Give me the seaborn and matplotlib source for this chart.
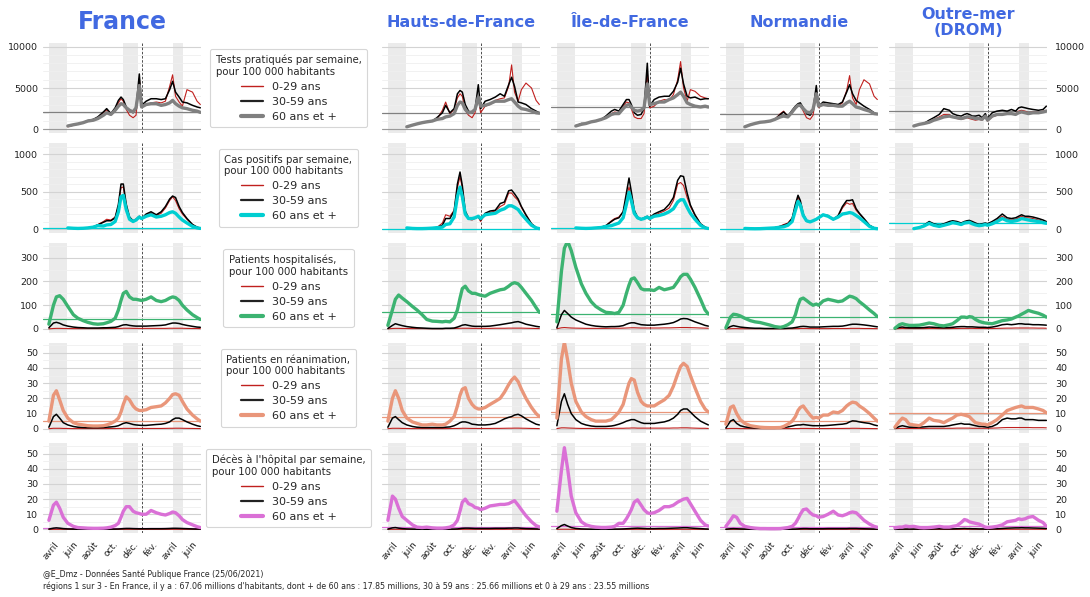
import numpy as np
import pandas as pd
import matplotlib
matplotlib.use("Agg")
import matplotlib.pyplot as plt
import matplotlib.dates as mdates
from matplotlib.lines import Line2D
from matplotlib.ticker import MultipleLocator, FixedLocator
import seaborn as sns

NA = np.nan

DATES = ["2020-03-18", "2020-04-01", "2020-04-10", "2020-04-20", "2020-05-01", "2020-05-15",
         "2020-06-01", "2020-06-15", "2020-07-01", "2020-07-15", "2020-08-01", "2020-08-15",
         "2020-09-01", "2020-09-11", "2020-09-24", "2020-10-07", "2020-10-17", "2020-10-25",
         "2020-11-01", "2020-11-10", "2020-11-20", "2020-12-01", "2020-12-10", "2020-12-20",
         "2020-12-27", "2021-01-10", "2021-01-25", "2021-02-10", "2021-02-25", "2021-03-10",
         "2021-03-23", "2021-04-01", "2021-04-10", "2021-04-21", "2021-05-01", "2021-05-15",
         "2021-06-01", "2021-06-15", "2021-06-25"]

# ---------------- Tests pratiqués / semaine / 100k ----------------
FR_TESTS_A = [NA, NA, NA, NA, NA, 300, 500, 650, 800, 950, 1100, 1450, 2000, 2350, 1750, 2400, 3200, 3700, 3400, 2400, 1700, 1400, 1700, 6200, 2800, 3000, 3200, 3300, 3200, 3400, 5200, 6600, 4000, 3300, 2800, 4800, 4500, 3400, 3000]
FR_TESTS_B = [NA, NA, NA, NA, NA, 400, 500, 650, 800, 1050, 1200, 1500, 2100, 2500, 1900, 2600, 3500, 3900, 3600, 2700, 2300, 2000, 2500, 6700, 2900, 3400, 3700, 3700, 3600, 3700, 4800, 5800, 4500, 3900, 3300, 3200, 2900, 2700, 2600]
FR_TESTS_C = [NA, NA, NA, NA, NA, 400, 550, 650, 800, 1000, 1100, 1300, 1700, 2000, 1800, 2300, 2800, 3100, 3000, 2600, 2300, 2100, 2600, 5300, 2700, 3000, 3100, 3100, 2900, 3000, 3200, 3500, 3100, 2800, 2600, 2500, 2300, 2200, 2050]
HDF_TESTS_A = [NA, NA, NA, NA, NA, 300, 500, 650, 800, 900, 1000, 1200, 2300, 3300, 1900, 2400, 3800, 4300, 4000, 2300, 1700, 1400, 2000, 4000, 2000, 2800, 3000, 3500, 3700, 3800, 5200, 7800, 4500, 3400, 4800, 5600, 5000, 3500, 3000]
HDF_TESTS_B = [NA, NA, NA, NA, NA, 300, 500, 650, 800, 900, 1000, 1400, 2000, 2900, 2000, 2500, 4300, 4700, 4500, 3000, 2200, 2000, 2400, 5400, 2500, 3400, 3600, 3900, 4300, 4000, 5400, 6300, 5200, 3300, 3200, 3000, 2500, 2200, 2000]
HDF_TESTS_C = [NA, NA, NA, NA, NA, 300, 500, 650, 800, 900, 1000, 1200, 1300, 1500, 1600, 1900, 2900, 3300, 3200, 2400, 2000, 2100, 2400, 3900, 2800, 2900, 3100, 3400, 3400, 3400, 3600, 3700, 3300, 2800, 2500, 2400, 2200, 2000, 1950]
IDF_TESTS_A = [NA, NA, NA, NA, NA, 400, 600, 700, 900, 1000, 1200, 1400, 1900, 2100, 2000, 2800, 3300, 3200, 2500, 1500, 1300, 1300, 1900, 7000, 2600, 2800, 3400, 3600, 3500, 4200, 6000, 8200, 5000, 3400, 4800, 4600, 4000, 3800, 3700]
IDF_TESTS_B = [NA, NA, NA, NA, NA, 400, 700, 700, 900, 1000, 1200, 1600, 2200, 2400, 2200, 3000, 3600, 3600, 3000, 2000, 1700, 1800, 2500, 8000, 2800, 3600, 3900, 4000, 4000, 4600, 5700, 7400, 5500, 4000, 3800, 3900, 3600, 3700, 3700]
IDF_TESTS_C = [NA, NA, NA, NA, NA, 400, 600, 700, 900, 1000, 1200, 1400, 1800, 1900, 1900, 2500, 2900, 3000, 2700, 2300, 2200, 2300, 2600, 5500, 3000, 3100, 3300, 3300, 3600, 3800, 4200, 4500, 4000, 3200, 3000, 2800, 2700, 2800, 2700]
NOR_TESTS_A = [NA, NA, NA, NA, NA, 300, 550, 700, 850, 900, 1000, 1200, 1900, 2200, 1500, 2000, 2600, 2900, 2900, 2200, 1400, 1200, 1700, 4500, 2600, 3100, 2900, 2900, 2800, 3200, 4700, 6500, 3800, 3000, 4800, 6000, 5500, 4000, 3600]
NOR_TESTS_B = [NA, NA, NA, NA, NA, 300, 550, 700, 850, 900, 1000, 1200, 1800, 2100, 1600, 2300, 2800, 3100, 3200, 2600, 1900, 1700, 2300, 5300, 2800, 3300, 3200, 3100, 3000, 3300, 4500, 5400, 4300, 3500, 3200, 2800, 2400, 2000, 1800]
NOR_TESTS_C = [NA, NA, NA, NA, NA, 300, 550, 700, 850, 900, 1000, 1200, 1500, 1600, 1500, 2100, 2600, 2900, 2900, 2500, 2100, 2000, 2400, 4300, 2800, 3000, 2900, 2900, 2800, 2800, 3200, 3400, 3100, 2700, 2600, 2400, 2200, 1900, 1850]
OM_TESTS_A = [NA, NA, NA, NA, NA, 400, 600, 700, 900, 1200, 1500, 1800, 1800, 1500, 1300, 1200, 1300, 1400, 1300, 1200, 1100, 1200, 1100, 1500, 1000, 1500, 1700, 1800, 1800, 1900, 1900, 2200, 2300, 2200, 2000, 2100, 2100, 2200, 2300]
OM_TESTS_B = [NA, NA, NA, NA, NA, 400, 600, 700, 1100, 1400, 1800, 2500, 2300, 1900, 1700, 1600, 1800, 1900, 1800, 1600, 1600, 1700, 1400, 1900, 1300, 2000, 2200, 2300, 2200, 2400, 2200, 2600, 2700, 2600, 2500, 2400, 2300, 2400, 2800]
OM_TESTS_C = [NA, NA, NA, NA, NA, 400, 600, 700, 850, 1100, 1300, 1500, 1600, 1500, 1400, 1300, 1400, 1500, 1500, 1400, 1300, 1300, 1200, 1600, 1100, 1600, 1800, 1800, 1900, 1900, 1800, 2000, 2100, 2000, 1900, 2000, 2000, 2100, 2200]

# ---------------- Cas positifs / semaine / 100k ----------------
FR_CAS_A = [NA, NA, NA, NA, NA, 15, 10, 8, 10, 15, 25, 60, 100, 130, 120, 160, 300, 550, 560, 300, 140, 100, 120, 160, 130, 190, 210, 180, 210, 280, 380, 430, 380, 270, 200, 130, 60, 25, 12]
FR_CAS_B = [NA, NA, NA, NA, NA, 15, 10, 8, 10, 15, 30, 55, 90, 110, 110, 150, 330, 600, 600, 330, 160, 110, 130, 170, 140, 200, 230, 190, 230, 300, 400, 440, 420, 300, 220, 140, 60, 25, 12]
FR_CAS_C = [NA, NA, NA, NA, NA, 15, 10, 8, 10, 15, 25, 45, 40, 55, 60, 100, 230, 430, 450, 260, 130, 100, 120, 160, 140, 170, 190, 160, 170, 190, 220, 230, 210, 160, 120, 80, 35, 15, 8]
HDF_CAS_A = [NA, NA, NA, NA, NA, 15, 8, 6, 6, 8, 12, 20, 80, 190, 170, 250, 550, 700, 550, 220, 130, 120, 140, 160, 100, 200, 220, 240, 300, 330, 480, 480, 430, 380, 290, 180, 70, 20, 8]
HDF_CAS_B = [NA, NA, NA, NA, NA, 15, 8, 6, 6, 8, 12, 20, 50, 140, 140, 240, 600, 760, 580, 240, 150, 140, 150, 170, 120, 210, 240, 250, 340, 360, 510, 520, 470, 400, 300, 190, 70, 20, 8]
HDF_CAS_C = [NA, NA, NA, NA, NA, 15, 8, 6, 6, 8, 12, 18, 25, 60, 70, 160, 430, 560, 430, 200, 140, 140, 150, 170, 140, 190, 200, 210, 250, 270, 310, 310, 290, 260, 200, 130, 50, 15, 5]
IDF_CAS_A = [NA, NA, NA, NA, NA, 15, 10, 8, 10, 15, 25, 45, 110, 140, 160, 230, 420, 560, 430, 230, 140, 120, 140, 160, 120, 180, 210, 240, 280, 380, 600, 620, 580, 420, 300, 180, 70, 25, 10]
IDF_CAS_B = [NA, NA, NA, NA, NA, 15, 10, 8, 10, 15, 25, 45, 100, 130, 150, 230, 480, 680, 500, 250, 160, 130, 150, 170, 150, 200, 230, 260, 330, 420, 650, 710, 700, 480, 320, 190, 70, 25, 10]
IDF_CAS_C = [NA, NA, NA, NA, NA, 15, 10, 8, 10, 15, 20, 35, 45, 60, 80, 150, 330, 490, 380, 210, 150, 130, 140, 160, 140, 170, 180, 200, 230, 270, 360, 390, 390, 290, 210, 130, 50, 15, 7]
NOR_CAS_A = [NA, NA, NA, NA, NA, 8, 5, 4, 5, 8, 12, 18, 40, 60, 80, 150, 300, 420, 350, 180, 100, 90, 110, 130, 150, 190, 170, 120, 170, 280, 350, 330, 340, 250, 200, 130, 50, 15, 6]
NOR_CAS_B = [NA, NA, NA, NA, NA, 8, 5, 4, 5, 8, 12, 18, 35, 50, 70, 140, 330, 450, 380, 200, 110, 95, 110, 130, 150, 190, 180, 130, 180, 300, 380, 380, 390, 270, 210, 140, 50, 15, 6]
NOR_CAS_C = [NA, NA, NA, NA, NA, 8, 5, 4, 5, 8, 12, 15, 25, 30, 50, 100, 250, 370, 320, 180, 110, 95, 110, 130, 150, 190, 170, 130, 160, 200, 210, 220, 210, 180, 150, 100, 35, 10, 4]
OM_CAS_A = [NA, NA, NA, NA, NA, 5, 20, 40, 80, 60, 40, 55, 80, 90, 85, 70, 90, 95, 100, 85, 70, 50, 60, 70, 60, 80, 120, 170, 130, 120, 130, 150, 170, 150, 150, 140, 120, 100, 90]
OM_CAS_B = [NA, NA, NA, NA, NA, 5, 20, 50, 100, 70, 50, 70, 100, 110, 100, 80, 100, 110, 115, 100, 80, 60, 70, 80, 70, 100, 140, 200, 150, 140, 150, 170, 190, 170, 170, 160, 140, 120, 100]
OM_CAS_C = [NA, NA, NA, NA, NA, 5, 20, 40, 75, 50, 35, 50, 70, 85, 75, 60, 80, 85, 90, 70, 55, 45, 50, 60, 50, 70, 100, 140, 110, 100, 110, 120, 140, 130, 120, 110, 100, 85, 76]

# ---------------- Patients hospitalisés / 100k ----------------
FR_HOSP_A = [0.5, 2, 2.5, 2.5, 2, 2, 1.5, 1.5, 1.5, 1.5, 1.5, 1.5, 1.5, 2, 2, 2, 2.5, 2.5, 3, 3, 3, 2.5, 2.5, 2.5, 2.5, 2.5, 2.5, 2.5, 2.5, 2.5, 3, 3, 3, 3, 3, 2.5, 2, 2, 1.5]
FR_HOSP_B = [5, 25, 28, 24, 17, 12, 8, 6, 5, 4, 4, 4, 5, 5, 6, 7, 10, 14, 17, 18, 15, 13, 12, 12, 12, 12, 13, 14, 15, 17, 22, 25, 25, 23, 19, 15, 11, 8, 7]
FR_HOSP_C = [20, 100, 135, 140, 125, 95, 60, 45, 35, 28, 22, 20, 22, 26, 32, 45, 80, 120, 150, 158, 135, 125, 125, 122, 120, 125, 135, 120, 115, 120, 130, 135, 132, 120, 100, 80, 60, 48, 40]
HDF_HOSP_A = [0.5, 2, 2.5, 2.5, 2, 2, 1.5, 1.5, 1.5, 1, 1, 1, 1, 1.5, 1.5, 2, 2.5, 3, 3, 3, 3, 2.5, 2.5, 2.5, 2.5, 2.5, 2.5, 3, 3, 3, 3.5, 3.5, 3.5, 3.5, 3.5, 3, 2.5, 2, 2]
HDF_HOSP_B = [2, 15, 22, 18, 14, 10, 7, 5, 4, 3, 2, 2, 2, 3, 3, 4, 8, 12, 16, 18, 15, 12, 11, 11, 11, 11, 12, 15, 18, 21, 24, 26, 29, 31, 27, 20, 15, 11, 9]
HDF_HOSP_C = [15, 81, 125, 143, 130, 115, 95, 80, 60, 40, 33, 32, 30, 32, 30, 45, 80, 130, 170, 180, 160, 150, 150, 145, 142, 138, 150, 158, 165, 168, 180, 190, 195, 190, 175, 150, 120, 90, 70]
IDF_HOSP_A = [1, 5, 6, 5, 4, 3.5, 3, 2.5, 2.5, 2.5, 2.5, 2.5, 3, 3, 3, 3.5, 4, 4.5, 5, 5, 4.5, 4, 4, 4, 4, 4, 4, 4.5, 4.5, 5, 5.5, 6, 6, 6, 5.5, 5, 4, 3.5, 3]
IDF_HOSP_B = [5, 60, 78, 65, 50, 38, 28, 20, 15, 12, 10, 9, 10, 10, 11, 14, 20, 24, 26, 26, 22, 18, 17, 16, 16, 16, 18, 20, 23, 27, 35, 42, 44, 43, 38, 30, 22, 15, 12]
IDF_HOSP_C = [30, 243, 340, 370, 330, 260, 190, 150, 115, 95, 80, 70, 68, 65, 70, 100, 150, 185, 210, 215, 195, 170, 165, 165, 165, 162, 175, 165, 170, 175, 200, 220, 230, 230, 210, 175, 125, 80, 63]
NOR_HOSP_A = [0.3, 1, 1.5, 1.5, 1, 1, 1, 0.8, 0.8, 0.8, 0.8, 0.8, 0.8, 1, 1, 1, 1.5, 1.5, 2, 2, 2, 1.5, 1.5, 1.5, 1.5, 1.5, 1.5, 2, 2, 2, 2, 2.5, 2.5, 2.5, 2.5, 2, 2, 1.5, 1.5]
NOR_HOSP_B = [1, 10, 14, 11, 8, 6, 4, 3, 3, 2, 2, 2, 2, 2, 3, 4, 6, 8, 10, 11, 10, 8, 8, 8, 8, 9, 10, 11, 11, 12, 15, 18, 20, 20, 19, 17, 14, 11, 9]
NOR_HOSP_C = [5, 50, 62, 60, 55, 45, 35, 30, 27, 22, 16, 10, 7, 10, 18, 30, 60, 100, 125, 130, 120, 108, 100, 105, 100, 118, 125, 120, 115, 118, 130, 138, 135, 128, 115, 100, 80, 65, 52]
OM_HOSP_A = [0.3, 1.5, 2, 1.5, 1.5, 1.5, 1.5, 1.5, 2, 2, 1.5, 1.5, 1.5, 2, 2, 2.5, 2.5, 2.5, 2.5, 2.5, 2, 2, 2, 2, 2, 2, 2.5, 3, 3.5, 3.5, 4, 4, 4, 4, 4, 4, 3.5, 3.5, 3]
OM_HOSP_B = [1, 7, 8, 6, 5, 5, 5, 6, 8, 7, 6, 5, 6, 7, 9, 10, 10, 9, 9, 9, 8, 7, 7, 7, 6, 8, 12, 18, 20, 18, 20, 22, 22, 20, 20, 18, 18, 17, 16]
OM_HOSP_C = [3, 18, 22, 18, 15, 15, 16, 20, 25, 22, 15, 13, 18, 22, 35, 50, 50, 48, 52, 50, 40, 32, 28, 25, 24, 22, 28, 35, 38, 42, 50, 55, 62, 70, 78, 72, 66, 58, 50]

# ---------------- Patients en réanimation / 100k ----------------
FR_REA_A = [0.05, 0.3, 0.3, 0.3, 0.2, 0.2, 0.1, 0.1, 0.1, 0.1, 0.1, 0.1, 0.1, 0.1, 0.15, 0.15, 0.2, 0.2, 0.25, 0.25, 0.25, 0.2, 0.2, 0.2, 0.2, 0.2, 0.2, 0.2, 0.2, 0.25, 0.3, 0.3, 0.35, 0.35, 0.3, 0.25, 0.2, 0.15, 0.1]
FR_REA_B = [1, 8, 9.5, 7, 4, 2.5, 1.5, 1, 0.8, 0.7, 0.7, 0.7, 0.8, 1, 1.2, 1.5, 2, 2.8, 3.5, 4, 3.5, 2.8, 2.5, 2.3, 2.2, 2.2, 2.5, 2.8, 3, 3.5, 4.5, 6, 7, 7, 6, 4.5, 3, 2, 1.5]
FR_REA_C = [5, 22, 25, 19, 12, 7, 4, 3, 2.5, 2, 1.8, 1.8, 2, 2.5, 3.5, 5, 7, 11, 16, 21, 19, 15, 13, 12, 12, 12.5, 14, 14.5, 15, 17, 20, 22.5, 23, 22, 18, 13, 9, 6.5, 5]
HDF_REA_A = [0.05, 0.3, 0.3, 0.3, 0.2, 0.2, 0.1, 0.1, 0.1, 0.1, 0.1, 0.1, 0.1, 0.1, 0.15, 0.2, 0.2, 0.25, 0.3, 0.3, 0.25, 0.2, 0.2, 0.2, 0.2, 0.2, 0.2, 0.25, 0.25, 0.3, 0.35, 0.35, 0.4, 0.4, 0.35, 0.3, 0.2, 0.15, 0.1]
HDF_REA_B = [1, 7, 8, 6, 4, 2.5, 1.5, 1, 0.8, 0.8, 0.8, 0.8, 0.8, 1, 1.2, 2, 3, 4, 4.5, 4.5, 4, 3, 2.8, 2.5, 2.5, 2.5, 2.8, 3.5, 5, 6.5, 7.5, 8, 9, 9.5, 8.5, 6.5, 4.5, 3, 2.5]
HDF_REA_C = [5, 20, 25, 20, 12, 7, 4.5, 3.5, 2.5, 2.5, 3, 2.5, 2.5, 3, 5, 8, 15, 22, 26, 27, 20, 16, 14, 13, 13, 14, 16, 18, 20, 24, 29, 32, 34, 31, 26, 20, 14, 10, 8]
IDF_REA_A = [0.1, 0.6, 0.6, 0.5, 0.4, 0.3, 0.2, 0.2, 0.2, 0.2, 0.2, 0.2, 0.2, 0.3, 0.3, 0.3, 0.4, 0.4, 0.5, 0.5, 0.4, 0.4, 0.4, 0.4, 0.4, 0.4, 0.4, 0.4, 0.4, 0.5, 0.5, 0.6, 0.6, 0.6, 0.5, 0.4, 0.3, 0.3, 0.2]
IDF_REA_B = [2, 18, 23, 16, 10, 6, 3.5, 2.5, 1.8, 1.5, 1.5, 1.5, 1.8, 2.2, 3, 4, 5, 5.5, 6, 6, 5, 4, 3.5, 3.5, 3.5, 3.5, 4, 4.5, 5.5, 7, 9.5, 12, 13, 13, 11, 8, 5, 3.5, 2.5]
IDF_REA_C = [7, 46, 57, 45, 30, 18, 11, 8, 6, 5, 5, 5, 6, 8, 11, 16, 24, 30, 33, 32, 24, 18, 16, 15, 15, 15, 17, 19, 22, 28, 36, 41, 43, 41, 35, 27, 18, 13, 11]
NOR_REA_A = [0.05, 0.2, 0.2, 0.2, 0.1, 0.1, 0.1, 0.05, 0.05, 0.05, 0.05, 0.05, 0.05, 0.1, 0.1, 0.1, 0.15, 0.15, 0.2, 0.2, 0.2, 0.15, 0.15, 0.15, 0.15, 0.15, 0.15, 0.2, 0.2, 0.2, 0.25, 0.25, 0.3, 0.3, 0.25, 0.2, 0.15, 0.1, 0.1]
NOR_REA_B = [0.5, 5, 6, 3.5, 2, 1.2, 0.7, 0.5, 0.3, 0.3, 0.3, 0.3, 0.4, 0.8, 1.2, 1.8, 2.3, 2.5, 2.5, 2.8, 2.5, 2.2, 2, 2, 2, 2, 2.2, 2.5, 2.8, 3, 3.5, 4.5, 5.2, 5, 4.5, 4, 3.5, 2.5, 2]
NOR_REA_C = [3, 14, 15, 10, 6, 3.5, 2, 1.5, 1, 0.8, 0.7, 0.7, 0.8, 1.5, 3, 5, 8, 12, 14, 15, 12, 9, 7, 7.5, 7, 9, 9, 11, 10.5, 12, 15, 16.5, 17.5, 17, 15, 13, 10, 7, 5]
OM_REA_A = [0.05, 0.2, 0.2, 0.2, 0.2, 0.2, 0.2, 0.2, 0.3, 0.3, 0.3, 0.3, 0.3, 0.3, 0.4, 0.4, 0.4, 0.4, 0.4, 0.3, 0.3, 0.3, 0.3, 0.3, 0.3, 0.4, 0.5, 0.7, 0.8, 0.8, 0.8, 0.8, 0.8, 0.8, 0.8, 0.7, 0.7, 0.7, 0.6]
OM_REA_B = [0.2, 1.5, 2, 1.5, 1, 1, 1, 1.2, 1.5, 1.5, 1.5, 1.5, 2, 2.5, 3, 3.5, 3, 3, 3, 2.5, 2, 1.5, 1.5, 1.2, 1, 1.5, 3, 6, 7, 6.5, 6.5, 7, 7, 6, 6, 6, 5.5, 5.5, 5.5]
OM_REA_C = [1, 5, 7, 6, 3, 2.5, 2, 4, 7, 5.5, 5, 4, 6, 7, 9, 9.5, 9, 8.5, 8, 6, 4, 3.5, 3, 3, 2.5, 4, 6, 9, 12, 13, 14, 14.5, 15, 14, 14, 14, 13, 12, 10.5]

# ---------------- Décès à l'hôpital / semaine / 100k ----------------
FR_DC_A = [0.01, 0.03, 0.03, 0.03, 0.02, 0.02, 0.01, 0.01, 0.01, 0.01, 0.01, 0.01, 0.01, 0.01, 0.01, 0.02, 0.02, 0.02, 0.03, 0.03, 0.03, 0.03, 0.02, 0.02, 0.02, 0.02, 0.02, 0.02, 0.02, 0.02, 0.03, 0.03, 0.03, 0.03, 0.03, 0.02, 0.02, 0.01, 0.01]
FR_DC_B = [0.2, 0.8, 1, 0.8, 0.5, 0.3, 0.2, 0.1, 0.1, 0.1, 0.1, 0.1, 0.1, 0.1, 0.15, 0.2, 0.25, 0.4, 0.5, 0.6, 0.6, 0.5, 0.45, 0.4, 0.4, 0.4, 0.45, 0.45, 0.45, 0.5, 0.6, 0.7, 0.7, 0.65, 0.55, 0.45, 0.3, 0.2, 0.15]
FR_DC_C = [6, 16, 18, 14, 8, 4, 2, 1.2, 1, 0.8, 0.7, 0.7, 0.8, 1, 1.5, 2.5, 4, 8, 12, 15, 15, 12, 11, 10.5, 10, 10, 12.5, 11, 10, 9.5, 10.5, 11.5, 11, 9, 6.5, 4.5, 3, 1.8, 1.2]
HDF_DC_A = [0.01, 0.04, 0.04, 0.03, 0.02, 0.02, 0.01, 0.01, 0.01, 0.01, 0.01, 0.01, 0.01, 0.01, 0.01, 0.02, 0.02, 0.03, 0.03, 0.04, 0.04, 0.03, 0.03, 0.03, 0.03, 0.03, 0.03, 0.03, 0.03, 0.03, 0.04, 0.04, 0.04, 0.04, 0.03, 0.03, 0.02, 0.01, 0.01]
HDF_DC_B = [0.2, 1, 1.2, 0.8, 0.5, 0.3, 0.2, 0.1, 0.1, 0.1, 0.1, 0.1, 0.1, 0.1, 0.15, 0.2, 0.3, 0.5, 0.7, 0.8, 0.8, 0.7, 0.6, 0.6, 0.6, 0.6, 0.6, 0.7, 0.7, 0.7, 0.8, 0.8, 0.9, 0.9, 0.7, 0.5, 0.4, 0.3, 0.2]
HDF_DC_C = [6, 22, 20, 14, 8.5, 6, 3, 1.5, 1.2, 1.5, 1, 0.8, 0.8, 1, 1.5, 3, 6, 12, 18, 20, 17, 16, 14.5, 14, 13, 14, 15.5, 16, 16.5, 16.5, 17, 18, 19, 16, 13, 9, 5, 2.5, 1.6]
IDF_DC_A = [0.02, 0.08, 0.1, 0.07, 0.04, 0.03, 0.02, 0.01, 0.01, 0.01, 0.01, 0.01, 0.01, 0.01, 0.02, 0.02, 0.03, 0.03, 0.04, 0.04, 0.04, 0.04, 0.03, 0.03, 0.03, 0.03, 0.03, 0.03, 0.03, 0.04, 0.04, 0.05, 0.05, 0.05, 0.04, 0.03, 0.02, 0.02, 0.01]
IDF_DC_B = [0.5, 2.5, 3.2, 2.2, 1.2, 0.6, 0.3, 0.2, 0.1, 0.1, 0.1, 0.1, 0.1, 0.15, 0.2, 0.3, 0.4, 0.5, 0.6, 0.7, 0.8, 0.7, 0.6, 0.5, 0.5, 0.5, 0.6, 0.6, 0.7, 0.8, 0.9, 1, 1.1, 1.1, 0.9, 0.7, 0.5, 0.3, 0.2]
IDF_DC_C = [12, 39, 54, 40, 22, 11, 5, 3, 2, 1.5, 1.2, 1.2, 1.5, 2, 4, 4, 7, 10, 13, 18, 19.5, 16, 13, 11, 10.5, 11, 12.5, 15, 15, 16, 18, 19, 20, 20.5, 17, 12, 6, 3, 2.2]
NOR_DC_A = [0.01, 0.02, 0.02, 0.02, 0.01, 0.01, 0.01, 0.01, 0.01, 0.01, 0.01, 0.01, 0.01, 0.01, 0.01, 0.01, 0.02, 0.02, 0.02, 0.03, 0.03, 0.02, 0.02, 0.02, 0.02, 0.02, 0.02, 0.02, 0.02, 0.02, 0.02, 0.03, 0.03, 0.03, 0.02, 0.02, 0.01, 0.01, 0.01]
NOR_DC_B = [0.1, 0.4, 0.5, 0.4, 0.3, 0.2, 0.1, 0.05, 0.05, 0.05, 0.05, 0.05, 0.05, 0.1, 0.1, 0.15, 0.2, 0.3, 0.4, 0.5, 0.5, 0.4, 0.4, 0.4, 0.4, 0.4, 0.5, 0.5, 0.5, 0.5, 0.5, 0.6, 0.6, 0.6, 0.5, 0.4, 0.3, 0.2, 0.15]
NOR_DC_C = [2, 6, 9, 8, 4, 2, 1.2, 0.8, 0.5, 0.5, 0.4, 0.4, 0.5, 0.8, 1.2, 2, 4, 7, 10, 13, 13.5, 11, 9.5, 9, 8, 8.5, 10, 12, 9.5, 9, 10, 11, 11.5, 11, 9, 6, 3.5, 2, 1.4]
OM_DC_A = [0.01, 0.02, 0.02, 0.02, 0.02, 0.02, 0.02, 0.02, 0.02, 0.02, 0.03, 0.03, 0.03, 0.03, 0.03, 0.04, 0.05, 0.05, 0.04, 0.04, 0.03, 0.03, 0.03, 0.02, 0.02, 0.03, 0.04, 0.05, 0.07, 0.08, 0.08, 0.09, 0.1, 0.1, 0.1, 0.09, 0.08, 0.07, 0.06]
OM_DC_B = [0.05, 0.2, 0.2, 0.2, 0.2, 0.2, 0.2, 0.2, 0.2, 0.3, 0.4, 0.3, 0.3, 0.3, 0.4, 0.5, 0.6, 0.5, 0.5, 0.4, 0.4, 0.3, 0.3, 0.2, 0.2, 0.3, 0.4, 0.6, 0.8, 0.9, 1, 1, 1.1, 1, 1, 0.9, 0.8, 0.7, 0.6]
OM_DC_C = [1, 1.5, 1.5, 2.2, 1.8, 2, 1.2, 1, 1.2, 1.5, 2, 1.5, 1.5, 2, 2.5, 4.5, 6.5, 6, 5, 4.5, 4, 3.5, 2.5, 1.5, 1.2, 1.5, 2, 3, 5, 5.5, 6, 7, 6.5, 7, 8, 8.5, 6, 4.5, 2]

# ---------------- Labels ----------------
REGION_TITLES = ["France", "Hauts-de-France", "Île-de-France", "Normandie", "Outre-mer\n(DROM)"]
AGE_LABELS = ["0-29 ans", "30-59 ans", "60 ans et +"]
METRIC_TITLES = ["Tests pratiqués par semaine,\npour 100 000 habitants",
                 "Cas positifs par semaine,\npour 100 000 habitants",
                 "Patients hospitalisés,\npour 100 000 habitants",
                 "Patients en réanimation,\npour 100 000 habitants",
                 "Décès à l'hôpital par semaine,\npour 100 000 habitants"]
X_TICKS = ["2020-04-01", "2020-06-01", "2020-08-01", "2020-10-01", "2020-12-01",
           "2021-02-01", "2021-04-01", "2021-06-01"]
X_TICK_LABELS = ["avril", "juin", "août", "oct.", "déc.", "fév.", "avril", "juin"]
LOCKDOWNS = [("2020-03-17", "2020-05-11"), ("2020-10-30", "2020-12-15"), ("2021-04-03", "2021-05-03")]
VACCINE_START = "2020-12-27"
FOOTER = ("@E_Dmz - Données Santé Publique France (25/06/2021)\n"
          "régions 1 sur 3 - En France, il y a : 67.06 millions d'habitants, dont + de 60 ans : 17.85 millions, "
          "30 à 59 ans : 25.66 millions et 0 à 29 ans : 23.55 millions")

DATA = [
    [(FR_TESTS_A, FR_TESTS_B, FR_TESTS_C), (HDF_TESTS_A, HDF_TESTS_B, HDF_TESTS_C), (IDF_TESTS_A, IDF_TESTS_B, IDF_TESTS_C), (NOR_TESTS_A, NOR_TESTS_B, NOR_TESTS_C), (OM_TESTS_A, OM_TESTS_B, OM_TESTS_C)],
    [(FR_CAS_A, FR_CAS_B, FR_CAS_C), (HDF_CAS_A, HDF_CAS_B, HDF_CAS_C), (IDF_CAS_A, IDF_CAS_B, IDF_CAS_C), (NOR_CAS_A, NOR_CAS_B, NOR_CAS_C), (OM_CAS_A, OM_CAS_B, OM_CAS_C)],
    [(FR_HOSP_A, FR_HOSP_B, FR_HOSP_C), (HDF_HOSP_A, HDF_HOSP_B, HDF_HOSP_C), (IDF_HOSP_A, IDF_HOSP_B, IDF_HOSP_C), (NOR_HOSP_A, NOR_HOSP_B, NOR_HOSP_C), (OM_HOSP_A, OM_HOSP_B, OM_HOSP_C)],
    [(FR_REA_A, FR_REA_B, FR_REA_C), (HDF_REA_A, HDF_REA_B, HDF_REA_C), (IDF_REA_A, IDF_REA_B, IDF_REA_C), (NOR_REA_A, NOR_REA_B, NOR_REA_C), (OM_REA_A, OM_REA_B, OM_REA_C)],
    [(FR_DC_A, FR_DC_B, FR_DC_C), (HDF_DC_A, HDF_DC_B, HDF_DC_C), (IDF_DC_A, IDF_DC_B, IDF_DC_C), (NOR_DC_A, NOR_DC_B, NOR_DC_C), (OM_DC_A, OM_DC_B, OM_DC_C)],
]

# ---------------- Styles ----------------
COLOR_YOUNG = "#c0201e"
COLOR_MID = "black"
COLOR_OLD = ["grey", "darkturquoise", "mediumseagreen", "darksalmon", "orchid"]
YLIMS = [(-450, 10450), (-53, 1147), (-17, 362), (-2.8, 56.4), (-2.4, 57.1)]
YMAJOR = [[0, 5000, 10000], [0, 500, 1000], [0, 100, 200, 300],
          [0, 10, 20, 30, 40, 50], [0, 10, 20, 30, 40, 50]]
YMINOR = [1000, 100, 50, 5, 5]

W, H = 1090, 597
COL_LEFT = [43, 382, 551, 720, 889]
ROW_TOP = [43, 143, 243, 343, 443]
AX_W, AX_H = 158, 90

sns.set_style("white")
plt.rcParams["font.family"] = ["DejaVu Sans"]

fig = plt.figure(figsize=(W / 100, H / 100), dpi=100)
dates = pd.to_datetime(DATES)
xmin, xmax = pd.Timestamp("2020-02-29"), pd.Timestamp("2021-06-27")

for r in range(5):
    for c in range(5):
        ax = fig.add_axes([COL_LEFT[c] / W, 1 - (ROW_TOP[r] + AX_H) / H, AX_W / W, AX_H / H])
        for s, e in LOCKDOWNS:
            ax.axvspan(pd.Timestamp(s), pd.Timestamp(e), color="#e6e6e6", alpha=0.8, lw=0, zorder=0)
        ax.axvline(pd.Timestamp(VACCINE_START), color="#333333", lw=0.6, ls=(0, (3, 2)), zorder=1)
        ya, yb, yc = DATA[r][c]
        df = pd.DataFrame({"date": dates, "a": ya, "b": yb, "c": yc})
        sns.lineplot(data=df, x="date", y="a", ax=ax, color=COLOR_YOUNG, lw=0.8, zorder=3)
        sns.lineplot(data=df, x="date", y="b", ax=ax, color=COLOR_MID, lw=1.1, zorder=4)
        sns.lineplot(data=df, x="date", y="c", ax=ax, color=COLOR_OLD[r], lw=2.4, zorder=5)
        last = [v for v in yc if not np.isnan(v)][-1]
        ax.axhline(last, color=COLOR_OLD[r], lw=0.9, zorder=2)
        ax.set_xlim(xmin, xmax)
        ax.set_ylim(*YLIMS[r])
        ax.yaxis.set_major_locator(FixedLocator(YMAJOR[r]))
        ax.yaxis.set_minor_locator(MultipleLocator(YMINOR[r]))
        ax.grid(axis="y", which="major", color="#d3d3d3", lw=0.8, zorder=0)
        ax.grid(axis="y", which="minor", color="#efefef", lw=0.6, zorder=0)
        ax.grid(axis="x", visible=False)
        ax.set_axisbelow(True)
        if r == 0:
            ax.axhline(0, color="#9a9a9a", lw=0.8, zorder=1)
        for sp in ax.spines.values():
            sp.set_visible(False)
        ax.set_xlabel("")
        ax.set_ylabel("")
        ax.tick_params(axis="y", which="both", length=0, labelsize=6.8, colors="#222222")
        if c == 0:
            ax.tick_params(axis="y", labelleft=True, labelright=False)
        elif c == 4:
            ax.yaxis.tick_right()
            ax.tick_params(axis="y", which="both", length=0, labelleft=False, labelright=True, pad=6)
        else:
            ax.tick_params(axis="y", labelleft=False, labelright=False)
        ax.set_xticks(pd.to_datetime(X_TICKS))
        if r == 4:
            ax.set_xticklabels(X_TICK_LABELS, rotation=50, ha="right", rotation_mode="anchor",
                               fontsize=6.5, color="#222222")
            ax.tick_params(axis="x", length=3, width=0.6, color="#555555", pad=2)
        else:
            ax.set_xticklabels([])
            ax.tick_params(axis="x", length=0)

    # legend column
    lax = fig.add_axes([205 / W, 1 - (ROW_TOP[r] + AX_H) / H, 167 / W, AX_H / H])
    lax.axis("off")
    handles = [Line2D([0], [0], color=COLOR_YOUNG, lw=1.0),
               Line2D([0], [0], color="#222222", lw=1.6),
               Line2D([0], [0], color=COLOR_OLD[r], lw=3.0)]
    leg = lax.legend(handles, AGE_LABELS, title=METRIC_TITLES[r], loc="center",
                     fontsize=8, title_fontsize=7.3, frameon=True, handlelength=2.0,
                     borderpad=0.5, labelspacing=0.45, handletextpad=0.8)
    leg._legend_box.align = "center"
    leg.get_frame().set_edgecolor("#cccccc")
    leg.get_frame().set_linewidth(0.8)

# titles
title_x = [COL_LEFT[c] + AX_W / 2 for c in range(5)]
fig.text(title_x[0] / W, 1 - 22 / H, REGION_TITLES[0], ha="center", va="center",
         fontsize=17, fontweight="bold", color="royalblue")
for c in range(1, 5):
    fig.text(title_x[c] / W, 1 - 22.5 / H, REGION_TITLES[c], ha="center", va="center",
             fontsize=11.5, fontweight="bold", color="royalblue", linespacing=1.05)

fig.text(43 / W, 1 - 591 / H, FOOTER, ha="left", va="bottom", fontsize=5.7,
         family="DejaVu Sans", linespacing=1.35)

fig.savefig("out.png", dpi=100)
